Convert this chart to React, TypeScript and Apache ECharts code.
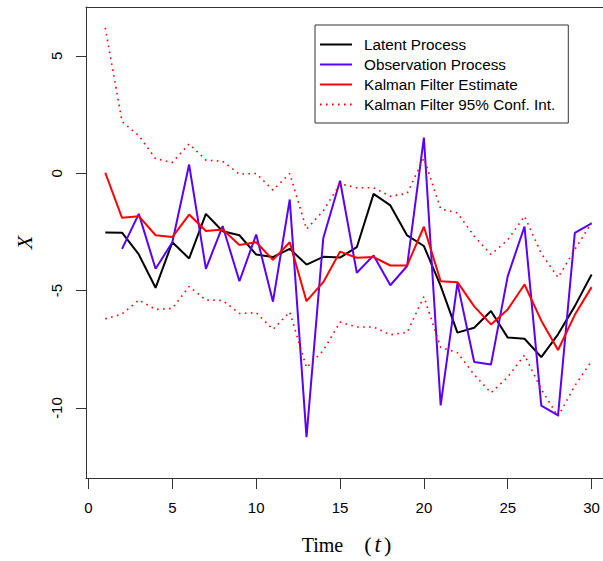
import React, { useEffect, useRef } from "react";
import * as echarts from "echarts";

const timeSteps = Array.from({ length: 30 }, (_, i) => i + 1);

const latentProcess = [
  -2.52, -2.53, -3.46, -4.88, -2.94, -3.63, -1.73, -2.47, -2.64, -3.46,
  -3.57, -3.22, -3.89, -3.56, -3.59, -3.15, -0.88, -1.37, -2.65, -3.10,
  -4.8, -6.79, -6.58, -5.87, -7.0, -7.05, -7.83, -6.86, -5.66, -4.31,
];

const observationProcess = [
  null, -3.22, -1.73, -4.07, -2.94, 0.37, -4.07, -2.25, -4.6, -2.61,
  -5.47, -1.12, -11.24, -2.77, -0.32, -4.24, -3.5, -4.77, -3.95, 1.52,
  -9.89, -4.68, -8.04, -8.15, -4.38, -2.27, -9.9, -10.31, -2.54, -2.14,
];

const kalmanEstimate = [
  0.02, -1.9, -1.83, -2.64, -2.72, -1.76, -2.46, -2.4, -3.06, -2.94,
  -3.69, -2.94, -5.45, -4.64, -3.34, -3.6, -3.57, -3.93, -3.93, -2.28,
  -4.6, -4.64, -5.67, -6.44, -5.8, -4.74, -6.28, -7.53, -6.03, -4.85,
];

const ciUpper = [
  6.19, 2.2, 1.6, 0.62, 0.46, 1.25, 0.56, 0.51, -0.04, -0.01,
  -0.72, -0.01, -2.38, -1.6, -0.45, -0.62, -0.62, -0.98, -0.86, 0.65,
  -1.52, -1.69, -2.68, -3.46, -2.84, -1.83, -3.42, -4.44, -3.25, -2.11,
];

const ciLower = [
  -6.2, -6.0, -5.4, -5.8, -5.76, -4.82, -5.4, -5.42, -5.97, -5.94,
  -6.65, -5.91, -8.28, -7.55, -6.34, -6.55, -6.55, -6.88, -6.78, -5.25,
  -7.42, -7.64, -8.58, -9.35, -8.68, -7.74, -9.2, -10.36, -9.05, -8.0,
];

const xTicks = [0, 5, 10, 15, 20, 25, 30];
const yTicks = [-10, -5, 0, 5];

const seriesNames = [
  "Latent Process",
  "Observation Process",
  "Kalman Filter Estimate",
  "Kalman Filter 95% Conf. Int.",
];

const pair = (vals: (number | null)[]) =>
  timeSteps.map((t, i) => [t, vals[i] === null ? null : vals[i]]);

export default function App() {
  const ref = useRef<HTMLDivElement>(null);
  useEffect(() => {
    if (!ref.current) return;
    const chart = echarts.init(ref.current, undefined, { renderer: "svg" });
    const sans = "'Liberation Sans', Arial, Helvetica, sans-serif";
    const serif = "'Liberation Serif', 'Times New Roman', serif";
    const dotted = { color: "#ff0000", width: 1.6, type: [1.6, 4.4] as any, cap: "butt" as any };
    const xMin = -0.149;
    const xMax = 30.68;
    chart.setOption({
      animation: false,
      backgroundColor: "#ffffff",
      grid: {
        left: 86,
        right: 0,
        top: 7,
        bottom: 82,
        show: false,
        containLabel: false,
      },
      legend: {
        orient: "vertical",
        left: 315,
        top: 25,
        padding: [12, 13, 11, 4],
        itemWidth: 32,
        itemHeight: 14,
        itemGap: 5,
        borderColor: "#333",
        borderWidth: 1,
        backgroundColor: "#ffffff",
        data: seriesNames,
        itemStyle: { opacity: 0 },
        textStyle: {
          fontFamily: sans,
          fontSize: 15.3,
          lineHeight: 14,
          color: "#000",
          padding: [0, 0, 0, 7],
        },
      },
      xAxis: [
        {
          type: "value",
          min: xMin,
          max: xMax,
          position: "bottom",
          name: "{a|Time}{s|}{p|(}{i|t}{q|)}",
          nameLocation: "middle",
          nameGap: 55,
          nameTextStyle: {
            fontFamily: serif,
            fontSize: 20,
            color: "#000",
            padding: [0, 0, 0, 4],
            rich: {
              a: { fontFamily: serif, fontSize: 20, color: "#000" },
              s: { width: 21 },
              p: { fontFamily: serif, fontSize: 22, color: "#000", padding: [0, 3, 0, 0] },
              q: { fontFamily: serif, fontSize: 22, color: "#000", padding: [0, 0, 0, 3] },
              i: { fontFamily: serif, fontSize: 23, color: "#000", fontStyle: "italic" },
            },
          },
          axisLine: { show: true, onZero: false, lineStyle: { color: "#333", width: 1 } },
          axisTick: {
            show: true,
            length: 11,
            lineStyle: { color: "#333" },
            customValues: xTicks,
          },
          axisLabel: {
            customValues: xTicks,
            margin: 22,
            fontFamily: sans,
            fontSize: 15,
            color: "#000",
          },
          splitLine: { show: false },
        },
        {
          type: "value",
          min: xMin,
          max: xMax,
          position: "top",
          axisLine: { show: true, onZero: false, lineStyle: { color: "#333", width: 1 } },
          axisTick: { show: false },
          axisLabel: { show: false },
          splitLine: { show: false },
        },
      ],
      yAxis: {
        type: "value",
        min: -12.98,
        max: 7.08,
        name: "X",
        nameLocation: "middle",
        nameGap: 51,
        nameTextStyle: {
          fontFamily: serif,
          fontSize: 22,
          fontStyle: "italic",
          color: "#000",
        },
        axisLine: { show: true, onZero: false, lineStyle: { color: "#333", width: 1 } },
        axisTick: {
          show: true,
          length: 10,
          lineStyle: { color: "#333" },
          customValues: yTicks,
        },
        axisLabel: {
          customValues: yTicks,
          rotate: 90,
          margin: 22,
          fontFamily: sans,
          fontSize: 15,
          color: "#000",
        },
        splitLine: { show: false },
      },
      series: [
        {
          name: seriesNames[0],
          type: "line",
          data: pair(latentProcess),
          symbol: "none",
          lineStyle: { color: "#000000", width: 2 },
          itemStyle: { color: "#000000" },
        },
        {
          name: seriesNames[1],
          type: "line",
          data: pair(observationProcess),
          symbol: "none",
          connectNulls: false,
          lineStyle: { color: "#5a00ff", width: 2 },
          itemStyle: { color: "#5a00ff" },
        },
        {
          name: seriesNames[2],
          type: "line",
          data: pair(kalmanEstimate),
          symbol: "none",
          lineStyle: { color: "#ff0000", width: 2 },
          itemStyle: { color: "#ff0000" },
        },
        {
          name: seriesNames[3],
          type: "line",
          data: pair(ciUpper),
          symbol: "none",
          lineStyle: dotted,
          itemStyle: { color: "#ff0000" },
        },
        {
          name: seriesNames[3],
          type: "line",
          data: pair(ciLower),
          symbol: "none",
          lineStyle: dotted,
          itemStyle: { color: "#ff0000" },
        },
      ],
    });
    return () => chart.dispose();
  }, []);
  return (
    <div
      ref={ref}
      style={{ position: "fixed", left: 0, top: 0, width: 603, height: 561, background: "#fff" }}
    />
  );
}
